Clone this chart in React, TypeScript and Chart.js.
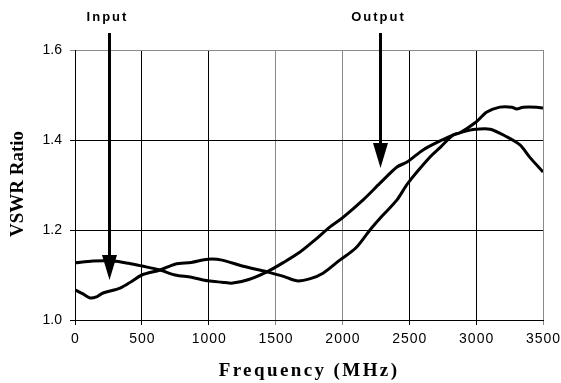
import React, { useEffect, useRef } from "react";
import { Chart, registerables } from "chart.js";

Chart.register(...registerables);

const xTicks = [0, 500, 1000, 1500, 2000, 2500, 3000, 3500];
const yTicks = [1.0, 1.2, 1.4, 1.6];

// Curve starting near 1.13 (peaks ~1.42 near 3 GHz)
const freqX = [0, 135, 284, 400, 500, 636, 748, 870, 995, 1100, 1180, 1300, 1435, 1560, 1683, 1795, 1907, 2000, 2155, 2281, 2408, 2483, 2603, 2730, 2827, 2954, 3000, 3105, 3230, 3328, 3400, 3500];
const valuesX = [1.127, 1.131, 1.131, 1.126, 1.12, 1.111, 1.1, 1.095, 1.087, 1.084, 1.082, 1.09, 1.107, 1.128, 1.151, 1.178, 1.207, 1.227, 1.267, 1.304, 1.34, 1.351, 1.378, 1.398, 1.411, 1.422, 1.424, 1.424, 1.407, 1.389, 1.362, 1.329];

// Curve starting near 1.07 (flattens ~1.47 above 3 GHz)
const freqY = [0, 60, 112, 165, 210, 337, 420, 500, 636, 748, 870, 995, 1100, 1250, 1435, 1560, 1660, 1760, 1855, 1980, 2100, 2206, 2300, 2408, 2490, 2655, 2730, 2827, 2879, 3000, 3080, 3177, 3267, 3304, 3350, 3454, 3500];
const valuesY = [1.067, 1.058, 1.049, 1.052, 1.06, 1.071, 1.085, 1.1, 1.111, 1.124, 1.128, 1.135, 1.133, 1.12, 1.107, 1.097, 1.087, 1.092, 1.104, 1.133, 1.16, 1.2, 1.232, 1.267, 1.304, 1.362, 1.383, 1.411, 1.416, 1.44, 1.462, 1.473, 1.473, 1.469, 1.473, 1.473, 1.471];

const arrowLabels = ["Input", "Output"];
const arrowFreq = [254, 2281];
const arrowTip = [1.089, 1.338];

const xTitle = "Frequency (MHz)";
const yTitle = "VSWR Ratio";

const overlayPlugin = {
  id: "overlay",
  afterDraw(chart: any) {
    const ctx = chart.ctx;
    const xs = chart.scales.x;
    const ys = chart.scales.y;
    const area = chart.chartArea;
    ctx.save();
    ctx.fillStyle = "#000";
    // x tick labels
    ctx.font = "14px 'Liberation Sans', Arial, sans-serif";
    (ctx as any).letterSpacing = "1px";
    ctx.textAlign = "center";
    ctx.textBaseline = "middle";
    xTicks.forEach((v) => {
      ctx.fillText(String(v), xs.getPixelForValue(v) + 0.5, area.bottom + 19);
    });
    // x title
    ctx.font = "bold 19px 'Liberation Serif', 'Times New Roman', serif";
    (ctx as any).letterSpacing = "2.4px";
    ctx.fillText(xTitle, (area.left + area.right) / 2, area.bottom + 51);
    // y title
    (ctx as any).letterSpacing = "0px";
    ctx.save();
    ctx.translate(18, (area.top + area.bottom) / 2 - 1);
    ctx.rotate(-Math.PI / 2);
    ctx.fillText(yTitle, 0, 0);
    ctx.restore();
    // arrows
    arrowLabels.forEach((label, i) => {
      const x = Math.round(xs.getPixelForValue(arrowFreq[i])) + 0.5;
      const tip = ys.getPixelForValue(arrowTip[i]);
      const headH = 25;
      const headW = 7.5;
      ctx.strokeStyle = "#000";
      ctx.lineWidth = 3;
      ctx.beginPath();
      ctx.moveTo(x, area.top - 17);
      ctx.lineTo(x, tip - headH + 2);
      ctx.stroke();
      ctx.beginPath();
      ctx.moveTo(x - headW, tip - headH);
      ctx.lineTo(x + headW, tip - headH);
      ctx.lineTo(x, tip);
      ctx.closePath();
      ctx.fill();
      ctx.font = "bold 13px 'Liberation Sans', Arial, sans-serif";
      (ctx as any).letterSpacing = "2px";
      ctx.textAlign = "center";
      ctx.textBaseline = "middle";
      ctx.fillText(label, x - 2, area.top - 33);
    });
    ctx.restore();
  },
};

const grayX = [1500, 2000, 3500];

export default function App() {
  const ref = useRef<HTMLCanvasElement>(null);
  useEffect(() => {
    document.body.style.margin = "0";
    const chart = new Chart(ref.current!, {
      type: "line",
      data: {
        datasets: [
          {
            label: "X",
            data: freqX.map((f, i) => ({ x: f, y: valuesX[i] })),
            borderColor: "#000",
            borderWidth: 3,
            pointRadius: 0,
            tension: 0.3,
            fill: false,
          },
          {
            label: "Y",
            data: freqY.map((f, i) => ({ x: f, y: valuesY[i] })),
            borderColor: "#000",
            borderWidth: 3,
            pointRadius: 0,
            tension: 0.3,
            fill: false,
          },
        ],
      },
      options: {
        animation: false,
        responsive: false,
        maintainAspectRatio: false,
        layout: { padding: { left: 0, right: 18, top: 50, bottom: 0 } },
        plugins: { legend: { display: false }, tooltip: { enabled: false } },
        scales: {
          x: {
            type: "linear",
            min: 0,
            max: 3500,
            afterBuildTicks: (s: any) => {
              s.ticks = xTicks.map((v) => ({ value: v }));
            },
            afterFit: (s: any) => {
              s.height = 63;
            },
            ticks: { display: false },
            grid: {
              color: (c: any) => (c.tick && grayX.includes(c.tick.value) ? "#8a8a8a" : "#000"),
              lineWidth: 1,
              tickLength: 5,
              drawTicks: true,
            },
            border: { color: "#000", width: 1 },
          },
          y: {
            min: 1.0,
            max: 1.6,
            afterBuildTicks: (s: any) => {
              s.ticks = yTicks.map((v) => ({ value: v }));
            },
            afterFit: (s: any) => {
              s.width = 75;
            },
            ticks: {
              color: "#000",
              font: { family: "'Liberation Sans', Arial, sans-serif", size: 14 },
              padding: 8,
              callback: (v: any) => Number(v).toFixed(1),
            },
            grid: {
              color: (c: any) => (c.tick && c.tick.value === 1.6 ? "#8a8a8a" : "#000"),
              lineWidth: 1,
              tickLength: 5,
              drawTicks: true,
            },
            border: { color: "#000", width: 1 },
          },
        },
      },
      plugins: [overlayPlugin],
    } as any);
    return () => chart.destroy();
  }, []);
  return (
    <div style={{ position: "absolute", left: 0, top: 0, width: 561, height: 383, background: "#fff" }}>
      <canvas ref={ref} width={561} height={383} style={{ width: 561, height: 383 }} />
    </div>
  );
}
